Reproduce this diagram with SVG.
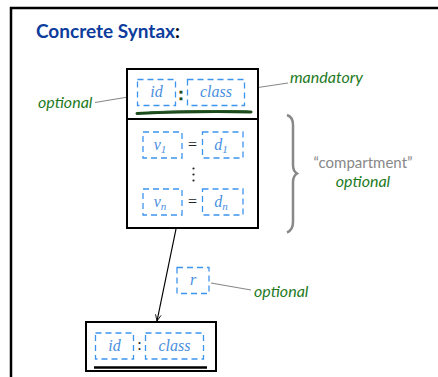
<svg xmlns="http://www.w3.org/2000/svg" width="438" height="377" viewBox="0 0 438 377">
<defs>
<style>
.frame{fill:none;stroke:#000;stroke-width:2.5}
.box{fill:#fff;stroke:#000;stroke-width:2}
.dash{fill:none;stroke:#3d94ee;stroke-width:1.3;stroke-dasharray:6 4}
.m{font-family:"Liberation Serif",serif;font-style:italic;font-size:16px;fill:#4a8fe0;text-anchor:middle}
.op{font-family:"Liberation Serif",serif;font-size:16px;fill:#222;text-anchor:middle}
.g{font-family:Lato,"Liberation Sans",sans-serif;font-style:italic;font-size:16px;fill:#1e7a1e}
.lead{fill:none;stroke:#888;stroke-width:1.2}
.dot{fill:#222}
</style>
<marker id="arr" viewBox="0 0 10 10" refX="9" refY="5" markerWidth="7" markerHeight="7" orient="auto" markerUnits="userSpaceOnUse">
<path d="M0,1 L9,5 L0,9" fill="none" stroke="#000" stroke-width="1.2"/>
</marker>
</defs>
<rect width="438" height="377" fill="#fff"/>
<path class="frame" d="M11,390 V8 H450"/>
<text x="36" y="38" font-family="Lato,'Liberation Sans',sans-serif" font-weight="bold" font-size="19" fill="#0d3c9c">Concrete Syntax<tspan fill="#000">:</tspan></text>

<g id="connectors">
<line class="lead" x1="95" y1="102.5" x2="134" y2="96"/>
<line class="lead" x1="248" y1="89" x2="288" y2="83"/>
<line class="lead" x1="211" y1="283" x2="251" y2="290"/>
<line x1="176" y1="229" x2="157" y2="321" stroke="#000" stroke-width="1.2" marker-end="url(#arr)"/>
</g>

<g id="top-node">
<rect class="box" x="127" y="69" width="131" height="50"/>
<rect class="box" x="127" y="119" width="131" height="109"/>
<rect class="dash" x="137.5" y="79.5" width="38" height="26"/>
<text class="m" x="156.5" y="97">id</text>
<text x="181" y="100" font-family="'Liberation Sans',sans-serif" font-weight="bold" font-size="16" fill="#1a4d1a" stroke="#1a4d1a" stroke-width="0.6" text-anchor="middle">:</text>
<rect class="dash" x="187.5" y="79.5" width="57" height="26"/>
<text class="m" x="216" y="97">class</text>
<path d="M137,113.5 C170,112 215,111 251,112" fill="none" stroke="#1b4a1b" stroke-width="3" stroke-linecap="round"/>
<path d="M150,112 C185,110.5 225,110 248,111" fill="none" stroke="#2a5a2a" stroke-width="1" stroke-linecap="round"/>
<rect class="dash" x="143" y="132" width="39" height="26"/>
<text class="m" x="160" y="150">v<tspan font-size="11" dy="3">1</tspan></text>
<text class="op" x="192.5" y="150">=</text>
<rect class="dash" x="202.5" y="132" width="40.5" height="26"/>
<text class="m" x="221" y="150">d<tspan font-size="11" dy="3">1</tspan></text>
<circle class="dot" cx="193.5" cy="168.5" r="1.1"/>
<circle class="dot" cx="193.5" cy="174.5" r="1.1"/>
<circle class="dot" cx="193.5" cy="180.5" r="1.1"/>
<rect class="dash" x="143" y="189" width="39" height="26"/>
<text class="m" x="160" y="207">v<tspan font-size="11" dy="3">n</tspan></text>
<text class="op" x="192.5" y="207">=</text>
<rect class="dash" x="202.5" y="189" width="40.5" height="26"/>
<text class="m" x="221" y="207">d<tspan font-size="11" dy="3">n</tspan></text>
</g>

<g id="brace">
<path d="M287,115 Q293,117 293,125 V165 Q293,171 297,173.5 Q293,176 293,182 V222 Q293,230 287,232.5" fill="none" stroke="#888" stroke-width="2.5"/>
</g>

<g id="labels">
<text class="g" x="38" y="108">optional</text>
<text class="g" x="290" y="83">mandatory</text>
<text x="363" y="168" font-family="Lato,'Liberation Sans',sans-serif" font-size="15" fill="#888" text-anchor="middle">“compartment”</text>
<text class="g" x="363" y="187" text-anchor="middle">optional</text>
<text class="g" x="254" y="297">optional</text>
</g>

<g id="r-label">
<rect class="dash" x="177" y="267.5" width="32" height="26"/>
<text class="m" x="193" y="285">r</text>
</g>

<g id="bottom-node">
<rect class="box" x="86" y="322" width="130" height="49"/>
<rect class="dash" x="95.5" y="333" width="38" height="26"/>
<text class="m" x="114.5" y="351">id</text>
<text class="op" x="139.5" y="350">:</text>
<rect class="dash" x="145.5" y="333" width="58" height="26"/>
<text class="m" x="174.5" y="351">class</text>
<line x1="94" y1="367.5" x2="207" y2="367.5" stroke="#000" stroke-width="2.5"/>
</g>
</svg>
